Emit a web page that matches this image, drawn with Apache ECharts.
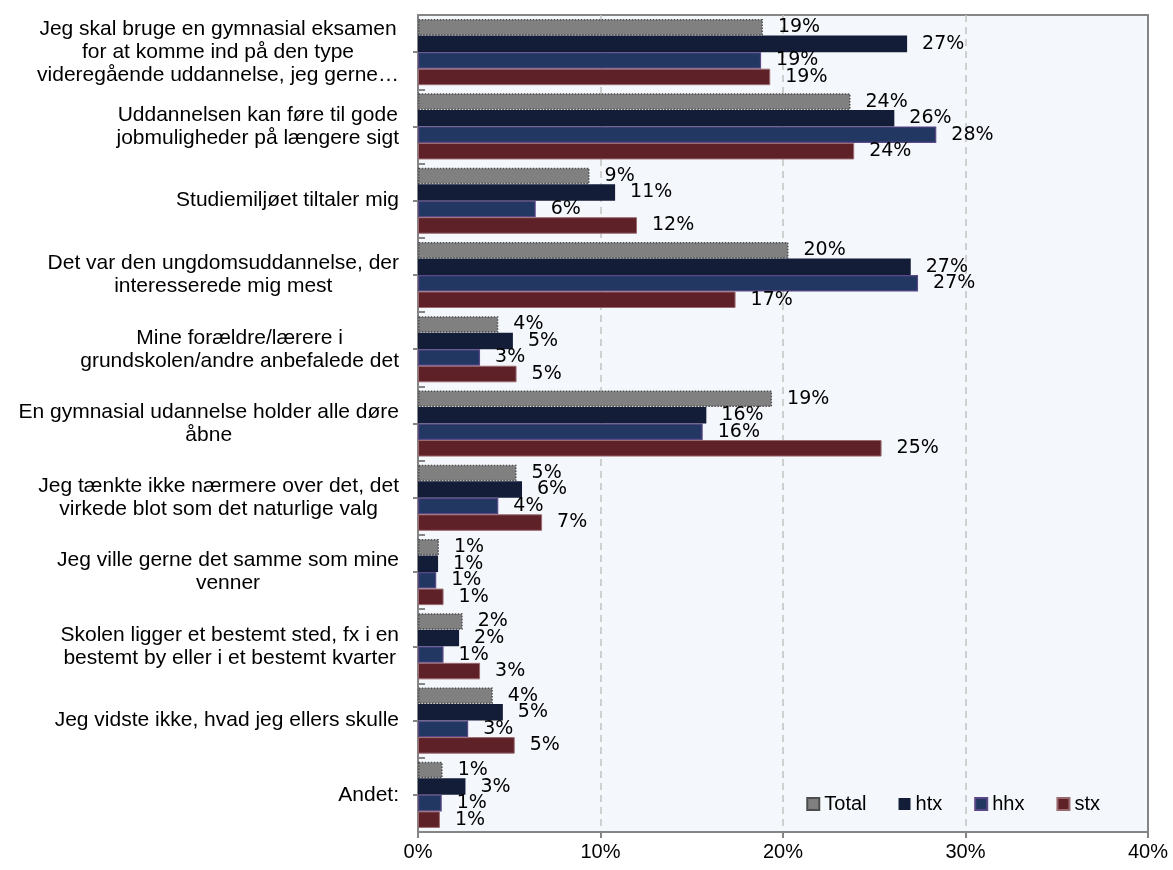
<!DOCTYPE html>
<html>
<head>
<meta charset="utf-8">
<script src="https://cdn.jsdelivr.net/npm/echarts@6/dist/echarts.min.js"></script>
<style>
  html, body { margin: 0; padding: 0; background: #ffffff; }
  #chart { width: 1173px; height: 870px; }
</style>
</head>
<body>
<div id="chart"></div>
<script>
// Reasons for choosing the education (share of respondents, %)
const categories = [
  "Jeg skal bruge en gymnasial eksamen\nfor at komme ind på den type\nvideregående uddannelse, jeg gerne…",
  "Uddannelsen kan føre til gode\njobmuligheder på længere sigt",
  "Studiemiljøet tiltaler mig",
  "Det var den ungdomsuddannelse, der\ninteresserede mig mest",
  "Mine forældre/lærere i\ngrundskolen/andre anbefalede det",
  "En gymnasial udannelse holder alle døre\nåbne",
  "Jeg tænkte ikke nærmere over det, det\nvirkede blot som det naturlige valg",
  "Jeg ville gerne det samme som mine\nvenner",
  "Skolen ligger et bestemt sted, fx i en\nbestemt by eller i et bestemt kvarter",
  "Jeg vidste ikke, hvad jeg ellers skulle",
  "Andet:"
];

const seriesNames = ["Total", "htx", "hhx", "stx"];

const totalValues = [18.9, 23.7, 9.4, 20.3, 4.4, 19.4, 5.4, 1.15, 2.45, 4.1, 1.35];
const htxValues   = [26.8, 26.1, 10.8, 27.0, 5.2, 15.8, 5.7, 1.1, 2.25, 4.65, 2.6];
const hhxValues   = [18.8, 28.4, 6.45, 27.4, 3.4, 15.6, 4.4, 1.0, 1.4, 2.75, 1.3];
const stxValues   = [19.3, 23.9, 12.0, 17.4, 5.4, 25.4, 6.8, 1.4, 3.4, 5.3, 1.2];

const xTicks = [0, 10, 20, 30, 40];

const chart = echarts.init(document.getElementById('chart'), null, { renderer: 'canvas' });

const labelFont = 'Liberation Sans, Arial, sans-serif';
const valueFont = 'DejaVu Sans, Verdana, sans-serif';

function valueLabel() {
  return {
    show: true,
    position: 'right',
    distance: 15,
    color: '#000000',
    fontFamily: valueFont,
    fontSize: 19,
    formatter: p => Math.round(p.value) + '%'
  };
}

const styles = [
  { color: '#808080', borderColor: '#4d4d4d', borderWidth: 1.5, borderType: 'dotted' },
  { color: '#141d37', borderColor: '#141d37', borderWidth: 0 },
  { color: '#223862', borderColor: '#5b4887', borderWidth: 1.2 },
  { color: '#5e2128', borderColor: '#9a6a70', borderWidth: 1 }
];
const valueSets = [totalValues, htxValues, hhxValues, stxValues];

const series = seriesNames.map((name, i) => ({
  name: name,
  type: 'bar',
  yAxisIndex: 0,
  data: valueSets[i],
  barGap: '0%',
  barCategoryGap: '11%',
  itemStyle: styles[i],
  label: valueLabel(),
  animation: false
}));

const option = {
  animation: false,
  backgroundColor: '#ffffff',
  grid: {
    left: 418, right: 25, top: 15, bottom: 38,
    show: true,
    backgroundColor: '#f4f7fb',
    borderColor: '#858585',
    borderWidth: 2
  },
  legend: {
    data: seriesNames.map(n => ({ name: n, icon: 'rect' })),
    right: 68,
    top: 789,
    itemWidth: 12,
    itemHeight: 12,
    itemGap: 32,
    textStyle: { fontFamily: labelFont, fontSize: 20, color: '#000000' }
  },
  xAxis: {
    type: 'value',
    min: xTicks[0],
    max: xTicks[xTicks.length - 1],
    interval: 10,
    axisLine: { show: true, lineStyle: { color: '#858585', width: 2 } },
    axisTick: { show: true, length: 6, lineStyle: { color: '#858585', width: 2 } },
    axisLabel: {
      formatter: '{value}%',
      color: '#000000',
      fontFamily: labelFont,
      fontSize: 20,
      margin: 10
    },
    splitLine: {
      show: true,
      showMinLine: false,
      showMaxLine: false,
      lineStyle: { color: '#c2c2c2', type: [7, 5], width: 1.5 }
    }
  },
  yAxis: [
    {
      type: 'category',
      data: categories,
      inverse: true,
      position: 'left',
      axisLine: { show: true, lineStyle: { color: '#858585', width: 2 } },
      axisTick: { show: true, inside: true, length: 7, lineStyle: { color: '#858585', width: 2 } },
      axisLabel: {
        margin: 19,
        align: 'right',
        color: '#000000',
        fontFamily: labelFont,
        fontSize: 21,
        lineHeight: 23,
        formatter: v => v.split('\n').map(s => '{c|' + s + '}').join('\n'),
        rich: {
          c: { align: 'center', fontFamily: labelFont, fontSize: 21, lineHeight: 23, color: '#000000' }
        }
      },
      splitLine: { show: false }
    },
    {
      type: 'category',
      data: categories,
      inverse: true,
      position: 'left',
      axisLine: { show: false },
      axisTick: { show: true, alignWithLabel: true, length: 5, lineStyle: { color: '#858585', width: 2 } },
      axisLabel: { show: false },
      splitLine: { show: false }
    }
  ],
  series: series
};

chart.setOption(option);
</script>
</body>
</html>
